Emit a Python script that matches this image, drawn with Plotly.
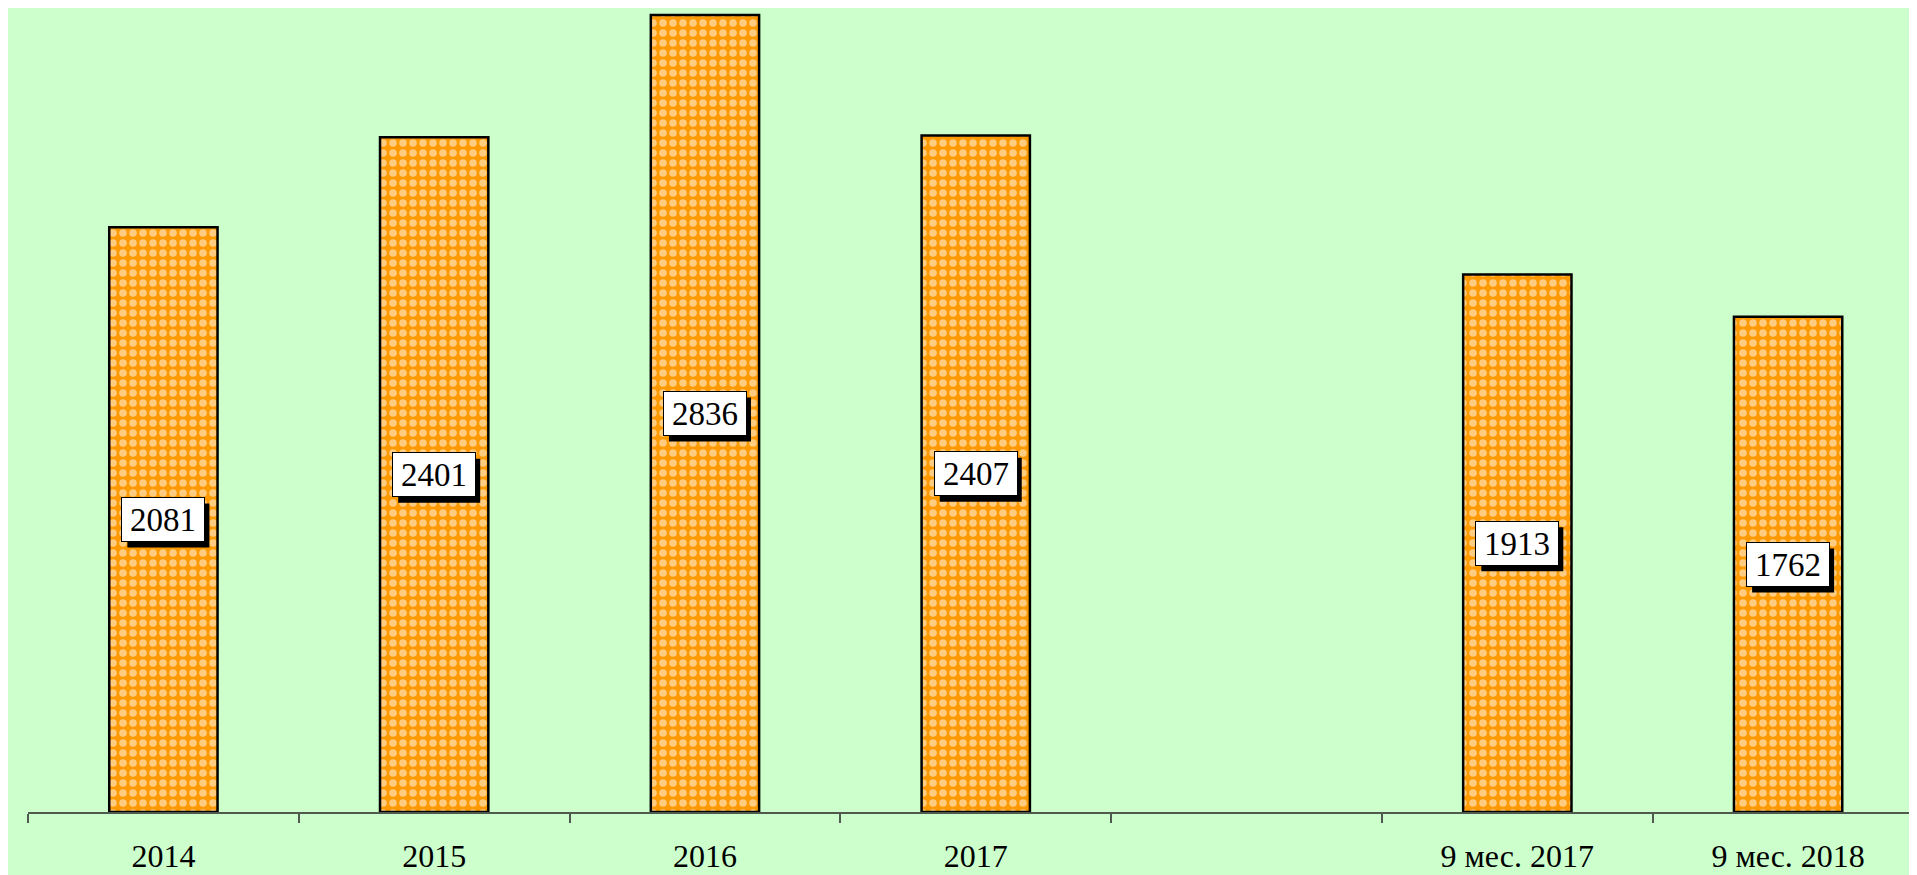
import plotly.graph_objects as go

categories = ["2014", "2015", "2016", "2017", " ", "9 мес. 2017", "9 мес. 2018"]
values = [2081, 2401, 2836, 2407, None, 1913, 1762]
label_texts = ["2081", "2401", "2836", "2407", "", "1913", "1762"]

# page body has an 8px margin, so the figure is sized to fit the window
W, H = 1909, 867
ML, MR, MT, MB = 20, 0, 0, 63

fig = go.Figure()
fig.add_trace(go.Bar(
    x=categories, y=values, width=0.4,
    marker=dict(
        color="#FF9900",
        line=dict(color="black", width=2.5),
        pattern=dict(shape=".", fgcolor="white", bgcolor="#FF9900",
                     size=10, solidity=0.45, fillmode="overlay"),
    ),
    hoverinfo="skip",
))

annotations = []
shapes = []
for i, (v, t) in enumerate(zip(values, label_texts)):
    if v is None:
        continue
    # drop shadow of the label box, anchored to the data point
    shapes.append(dict(
        type="rect", xref="x", yref="y", layer="above",
        xsizemode="pixel", ysizemode="pixel", xanchor=i, yanchor=v / 2,
        x0=-36, x1=46, y0=-28, y1=16,
        fillcolor="black", line=dict(width=0),
    ))
    annotations.append(dict(
        x=i, y=v / 2, xref="x", yref="y", text=t, showarrow=False,
        font=dict(family="Liberation Serif", size=33, color="black"),
        bgcolor="white", bordercolor="black", borderwidth=1,
        width=76, height=37, borderpad=3,
    ))

fig.update_layout(
    width=W, height=H,
    margin=dict(l=ML, r=MR, t=MT, b=MB, autoexpand=False),
    paper_bgcolor="#CCFFCC",
    plot_bgcolor="#CCFFCC",
    showlegend=False,
    bargap=0.6,
    annotations=annotations,
    shapes=shapes,
    xaxis=dict(
        type="category", categoryorder="array", categoryarray=categories,
        range=[-0.5, 6.476], tickson="boundaries",
        ticks="outside", ticklen=9, tickcolor="#4d5a4d", tickwidth=1.5,
        showline=True, linecolor="#4d5a4d", linewidth=1.5,
        showgrid=False, zeroline=False,
        tickfont=dict(family="Liberation Serif", size=32, color="black"),
        ticklabelstandoff=15,
        fixedrange=True,
    ),
    yaxis=dict(
        range=[0, 2861], visible=False, showgrid=False, zeroline=False,
        fixedrange=True,
    ),
)

fig.write_html("out.html")
